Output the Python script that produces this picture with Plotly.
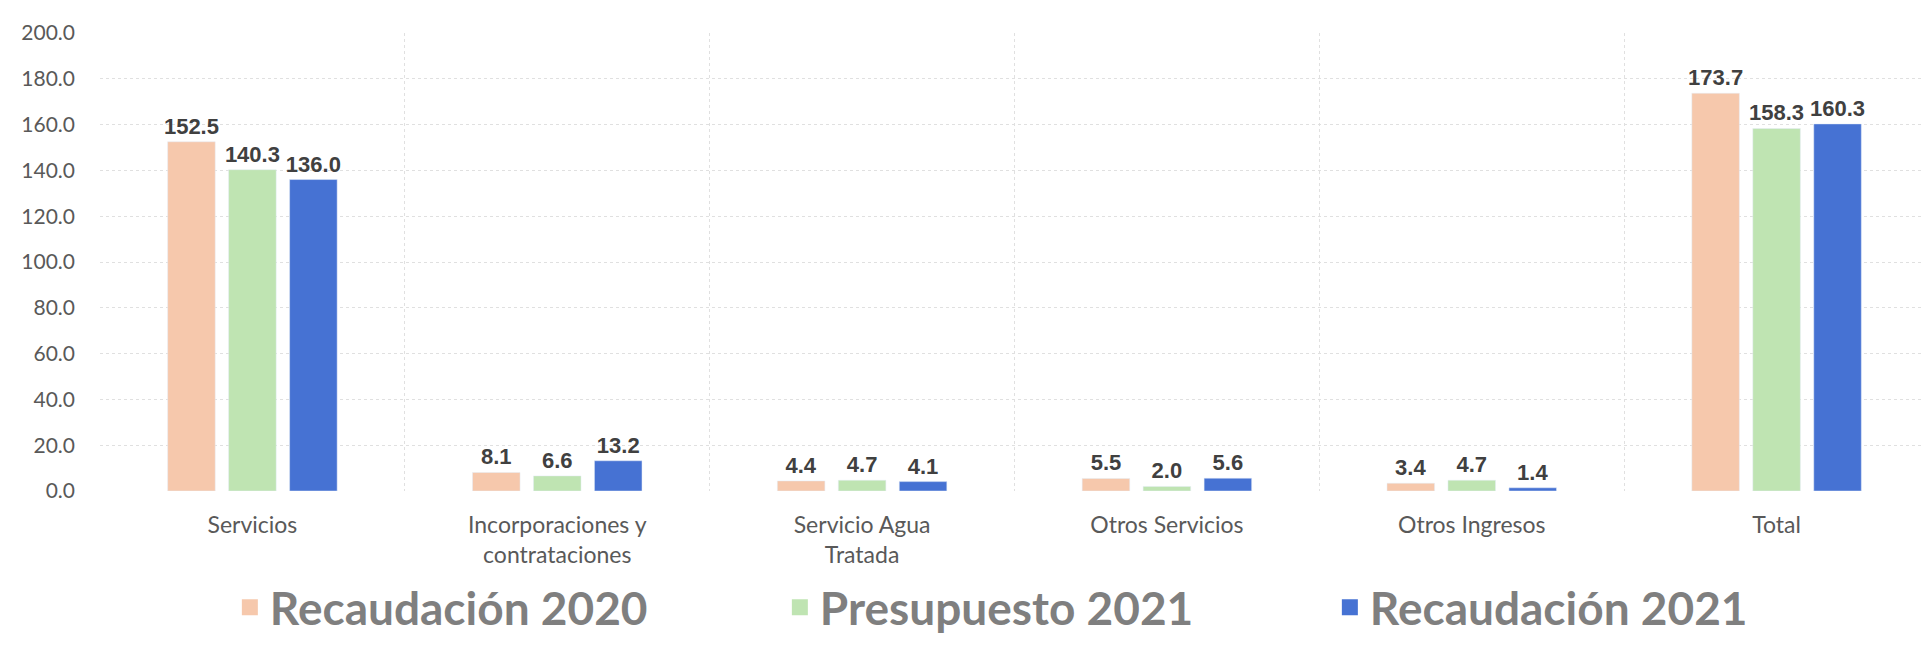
import plotly.graph_objects as go

categories = ["Servicios", "Incorporaciones y<br>contrataciones", "Servicio Agua<br>Tratada",
              "Otros Servicios", "Otros Ingresos", "Total"]
series_names = ["Recaudación 2020", "Presupuesto 2021", "Recaudación 2021"]
recaudacion_2020 = [152.5, 8.1, 4.4, 5.5, 3.4, 173.7]
presupuesto_2021 = [140.3, 6.6, 4.7, 2.0, 4.7, 158.3]
recaudacion_2021 = [136.0, 13.2, 4.1, 5.6, 1.4, 160.3]
colors = ["#F6C8AC", "#BFE4B2", "#4672D3"]
y_ticks = [0, 20, 40, 60, 80, 100, 120, 140, 160, 180, 200]

fig = go.Figure()
for name, vals, col in zip(series_names, [recaudacion_2020, presupuesto_2021, recaudacion_2021], colors):
    fig.add_trace(go.Bar(
        x=categories, y=vals, name=name, marker_color=col, showlegend=False,
        text=[f"{v:.1f}" for v in vals], textposition="outside", cliponaxis=False,
        constraintext="none",
        textfont=dict(family="Liberation Sans", size=22, color="#404040", weight="bold"),
    ))
# legend entries (larger square symbols)
for name, col in zip(series_names, colors):
    fig.add_trace(go.Scatter(
        x=[None], y=[None], mode="markers", name=name,
        marker=dict(symbol="square", size=30, color=col),
    ))

fig.update_layout(
    width=1931, height=646,
    margin=dict(l=92, r=10, t=25, b=148),
    paper_bgcolor="white", plot_bgcolor="white",
    barmode="group", bargap=0.40, bargroupgap=0.22,
    font=dict(family="Lato", color="#595959"),
    legend=dict(
        orientation="h", x=0.071, xanchor="left", y=-0.254, yanchor="middle",
        font=dict(family="Lato", size=46, color="#7F7F7F", weight="bold"),
        entrywidth=505, entrywidthmode="pixels", itemwidth=30,
        bgcolor="rgba(0,0,0,0)",
    ),
)
fig.update_xaxes(
    type="category", range=[-0.5, 5.5], tickson="boundaries",
    showgrid=True, gridcolor="#E0E0E0", griddash="dot", gridwidth=1,
    ticks="", showline=False, ticklabelstandoff=18, automargin=False,
    tickfont=dict(family="Lato", size=23, color="#595959"),
)
fig.update_yaxes(
    range=[0, 200], tickvals=y_ticks, ticktext=[f"{v:.1f}" for v in y_ticks],
    showgrid=True, gridcolor="#E0E0E0", griddash="dot", gridwidth=1,
    zeroline=False, showline=False, ticks="", automargin=False,
    ticklabelstandoff=24,
    tickfont=dict(family="Lato", size=21, color="#595959"),
)

fig.write_html("out.html")
